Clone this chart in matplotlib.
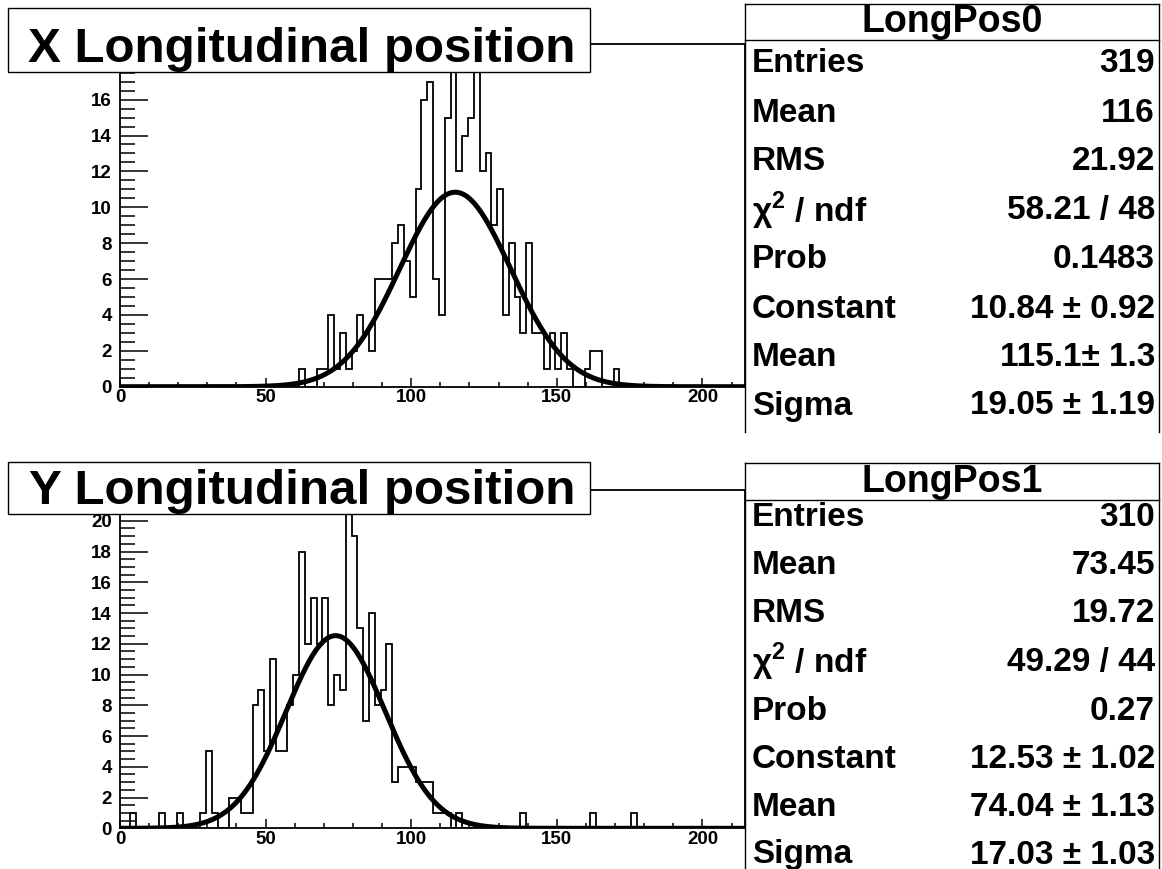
import numpy as np
import matplotlib
matplotlib.use("Agg")
import matplotlib.pyplot as plt
from matplotlib.patches import Rectangle
from matplotlib.lines import Line2D
from matplotlib.ticker import MultipleLocator, FixedLocator

plt.rcParams['font.family'] = ['Liberation Sans', 'DejaVu Sans']
plt.rcParams['font.weight'] = 'bold'
plt.rcParams['mathtext.fontset'] = 'custom'
plt.rcParams['mathtext.rm'] = 'Liberation Sans:bold'
plt.rcParams['mathtext.bf'] = 'Liberation Sans:bold'

W, H = 1162, 869

# bin width 2, low edges of the non-empty bins and their counts
bin_width = 2.0
first_edge = -0.5
x_max = 214.6

x_bin_lo = [61.5, 67.5, 69.5, 71.5, 73.5, 75.5, 77.5, 79.5, 81.5, 83.5, 85.5,
            87.5, 89.5, 91.5, 93.5, 95.5, 97.5, 99.5, 101.5, 103.5, 105.5,
            107.5, 109.5, 111.5, 113.5, 115.5, 117.5, 119.5, 121.5, 123.5,
            125.5, 127.5, 129.5, 131.5, 133.5, 135.5, 137.5, 139.5, 141.5,
            143.5, 145.5, 147.5, 149.5, 151.5, 153.5, 159.5, 161.5, 163.5,
            169.5]
x_counts = [1, 1, 1, 4, 1, 3, 1, 2, 4, 3, 2,
            6, 6, 6, 8, 9, 7, 5, 11, 16, 17,
            6, 4, 15, 18, 12, 14, 15, 18, 12,
            13, 9, 11, 4, 8, 5, 3, 8, 3,
            3, 1, 3, 1, 3, 1, 1, 2, 2,
            1]

y_bin_lo = [3.5, 13.5, 19.5, 27.5, 29.5, 31.5, 37.5, 39.5, 41.5, 43.5, 45.5,
            47.5, 49.5, 51.5, 53.5, 55.5, 57.5, 59.5, 61.5, 63.5, 65.5, 67.5,
            69.5, 71.5, 73.5, 75.5, 77.5, 79.5, 81.5, 83.5, 85.5, 87.5, 89.5,
            91.5, 93.5, 95.5, 97.5, 99.5, 101.5, 103.5, 105.5, 107.5, 109.5,
            111.5, 115.5, 137.5, 161.5, 175.5]
y_counts = [1, 1, 1, 1, 5, 1, 2, 2, 1, 1, 8,
            9, 5, 11, 5, 5, 8, 10, 18, 12, 15, 12,
            15, 8, 10, 9, 21, 19, 13, 7, 14, 8, 9,
            12, 3, 4, 4, 4, 3, 3, 3, 1, 1,
            1, 1, 1, 1, 1]

# fit results (gaus)
x_fit = (10.84, 115.1, 19.05)
y_fit = (12.53, 74.04, 17.03)

titles = ["X Longitudinal position", "Y Longitudinal position"]
stat_names = ["LongPos0", "LongPos1"]
stat_labels = ["Entries", "Mean", "RMS", r"$\mathrm{\chi}^{2}$ / ndf", "Prob",
               "Constant", "Mean", "Sigma"]
x_stats = ["319", "116", "21.92", "58.21 / 48", "0.1483",
           "10.84 \u00b1 0.92", "115.1\u00b1 1.3", "19.05 \u00b1 1.19"]
y_stats = ["310", "73.45", "19.72", "49.29 / 44", "0.27",
           "12.53 \u00b1 1.02", "74.04 \u00b1 1.13", "17.03 \u00b1 1.03"]
y_tops = [19.1, 22.0]
y_labelled = [list(range(0, 17, 2)), list(range(0, 21, 2))]


def fx(px):
    return px / W


def fy(py):
    return 1 - py / H


fig = plt.figure(figsize=(W / 100, H / 100), dpi=100)

# pixel layout of each pad: frame top/bottom, title box, stats box
pads = [
    dict(f_top=44, f_bot=386.7, t_top=8, t_bot=72, t_base=62,
         s_top=4, s_line=40, s_bot=432, s_head=22,
         rows=[64, 113, 162, 211, 260, 309, 357, 406]),
    dict(f_top=490, f_bot=828.3, t_top=462, t_bot=514, t_base=504,
         s_top=463, s_line=500, s_bot=869, s_head=482,
         rows=[518, 566, 614, 662, 711, 759, 807, 855]),
]

hists = [(x_bin_lo, x_counts, x_fit, x_stats), (y_bin_lo, y_counts, y_fit, y_stats)]
edges = np.arange(first_edge, x_max + bin_width, bin_width)

for i, (lo, cnt, fit, stats) in enumerate(hists):
    p = pads[i]
    ax = fig.add_axes([fx(120), fy(p['f_bot']), 625 / W, (p['f_bot'] - p['f_top']) / H])

    vals = np.zeros(len(edges) - 1)
    for e, c in zip(lo, cnt):
        vals[int(round((e - first_edge) / bin_width))] = c
    ax.stairs(vals, edges, color='black', lw=1.3, baseline=0)

    xs = np.linspace(0, x_max, 600)
    const, mean, sigma = fit
    ax.plot(xs, const * np.exp(-0.5 * ((xs - mean) / sigma) ** 2), color='black', lw=3.6,
            solid_capstyle='butt')

    ax.set_xlim(0, x_max)
    ax.set_ylim(0, y_tops[i])
    ax.xaxis.set_major_locator(MultipleLocator(50))
    ax.xaxis.set_minor_locator(MultipleLocator(10))
    ax.yaxis.set_major_locator(FixedLocator(y_labelled[i]))
    ax.yaxis.set_minor_locator(MultipleLocator(0.5))
    ax.tick_params(axis='x', which='major', direction='in', length=6.5, width=1.1,
                   labelsize=13.5, pad=2)
    ax.tick_params(axis='x', which='minor', direction='in', length=3.5, width=1.1)
    ax.tick_params(axis='y', which='major', direction='in', length=20, width=1.1,
                   labelsize=13.5, pad=6)
    ax.tick_params(axis='y', which='minor', direction='in', length=10.5, width=1.1)
    for lab in ax.get_xticklabels() + ax.get_yticklabels():
        lab.set_fontweight('bold')
    for sp in ax.spines.values():
        sp.set_linewidth(1.3)

    # title box
    fig.add_artist(Rectangle((fx(8), fy(p['t_bot'])), (590 - 8) / W,
                             (p['t_bot'] - p['t_top']) / H, transform=fig.transFigure,
                             facecolor='white', edgecolor='black', lw=1.0, zorder=5))
    fig.text(fx(302), fy(p['t_base']), titles[i], ha='center', va='baseline',
             fontsize=35.5, fontweight='bold', zorder=6)

    # stats box
    for (x0, y0, x1, y1) in [(745, p['s_top'], 1159, p['s_top']),
                             (745, p['s_top'], 745, p['s_bot']),
                             (1159, p['s_top'], 1159, p['s_bot']),
                             (745, p['s_line'], 1159, p['s_line'])]:
        fig.add_artist(Line2D([fx(x0), fx(x1)], [fy(y0), fy(y1)], transform=fig.transFigure,
                              color='black', lw=1.0, zorder=5))
    fig.text(fx(952), fy(p['s_head']), stat_names[i], ha='center', va='center',
             fontsize=27, fontweight='bold', zorder=6)
    for lab, val, ry in zip(stat_labels, stats, p['rows']):
        fig.text(fx(752), fy(ry), lab, ha='left', va='center', fontsize=24,
                 fontweight='bold', zorder=6)
        fig.text(fx(1155), fy(ry), val, ha='right', va='center', fontsize=24,
                 fontweight='bold', zorder=6)

fig.savefig("out.png", dpi=100)
